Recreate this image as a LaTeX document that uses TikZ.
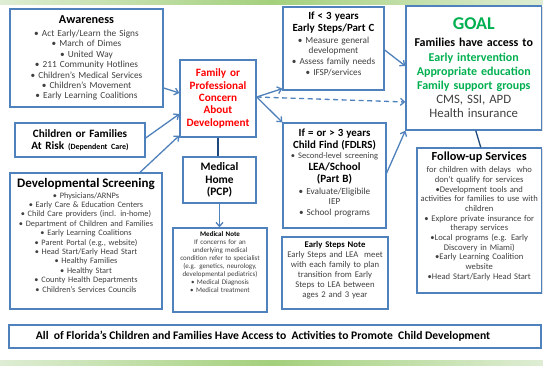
\documentclass[tikz,border=0pt]{standalone}
\usepackage{fontspec}
\setmainfont{Carlito}
\usetikzlibrary{arrows.meta,shadows}
\definecolor{boxblue}{RGB}{79,129,189}
\definecolor{boxdark}{RGB}{31,73,125}
\definecolor{bodygray}{RGB}{64,64,64}
\definecolor{goalgreen}{RGB}{0,176,80}
\definecolor{bandlight}{RGB}{222,237,212}
\definecolor{bandmid}{RGB}{164,208,124}
\newcommand{\setfs}[2]{\fontsize{#1}{#2}\selectfont}
\begin{document}
\begin{tikzpicture}[x=1pt,y=-1pt,
  box/.style={draw=boxblue,line width=1.3pt,fill=white,align=center,inner sep=1pt,
    drop shadow={shadow xshift=1.2pt,shadow yshift=-1.2pt,opacity=0.25}},
  arr/.style={draw=boxblue,line width=1.3pt,-{Straight Barb[length=4pt,width=7pt]}},
  link/.style={draw=boxdark,line width=1.3pt}]
	\useasboundingbox (0,0) rectangle (543,366);
	\fill[white] (0,0) rectangle (543,366);
	\shade[left color=bandlight,right color=bandlight,middle color=bandmid]
	  (0,0) rectangle (543,5)
	  (0,360) rectangle (543,366);
	% sources on the left
	\node[box,minimum width=153pt,minimum height=98pt,text width=150pt,
	  text=bodygray,font={\setfs{9.3}{10.4}}] (aware) at (86.5,58)
	  {{\setfs{12.2}{14}\bfseries\color{black}Awareness}\\[2.6pt]
	   • Act Early/Learn the Signs\\ • March of Dimes\\ • United Way\\
	   • 211 Community Hotlines\\ • Children's Medical Services\\
	   • Children's Movement\\ • Early Learning Coalitions};
	\node[box,minimum width=130pt,minimum height=34pt,text width=127pt,
	  font={\setfs{11.2}{12}\bfseries}] (risk) at (80,140)
	  {Children or Families\\ At Risk {\setfs{8}{12}(Dependent Care)}};
	\node[box,minimum width=152pt,minimum height=136pt,text width=150pt,
	  text=bodygray,font={\setfs{8.3}{9.4}}] (screen) at (86,241)
	  {{\setfs{13}{14}\bfseries\color{black}Developmental Screening}\\[0.9pt]
	   • Physicians/ARNPs\\ • Early Care \& Education Centers\\
	   • Child Care providers (incl. in-home)\\
	   • Department of Children and Families\\ • Early Learning Coalitions\\
	   • Parent Portal (e.g., website)\\ • Head Start/Early Head Start\\
	   • Healthy Families\\ • Healthy Start\\ • County Health Departments\\
	   • Children's Services Councils\par\vspace*{11pt}};
	% middle column
	\node[box,minimum width=76pt,minimum height=77pt,text width=74pt,
	  text=red,font={\setfs{11.2}{12.3}\bfseries}] (concern) at (218,98.5)
	  {Family or\\ Professional\\ Concern\\ About\\ Development};
	\node[box,minimum width=73pt,minimum height=46pt,text width=71pt,
	  font={\setfs{11.4}{12.3}\bfseries}] (pcp) at (219.5,180)
	  {Medical\\ Home\\ (PCP)};
	\node[box,minimum width=94pt,minimum height=84pt,text width=92pt,
	  text=bodygray,font={\setfs{7}{8}}] (mednote) at (220,270)
	  {{\bfseries\color{black}Medical Note}\\ If concerns for an\\
	   underlying medical\\ condition refer to specialist\\
	   (e.g. genetics, neurology,\\ developmental pediatrics)\\
	   • Medical Diagnosis\\ • Medical treatment\par\vspace*{15pt}};
	% programs
	\node[box,minimum width=101pt,minimum height=83pt,text width=99pt,
	  text=bodygray,font={\setfs{9.2}{10.7}}] (partc) at (333.5,48.5)
	  {{\setfs{10.9}{12}\bfseries\color{black}If < 3 years}\\[1.6pt]
	   {\setfs{10.9}{12}\bfseries\color{black}Early Steps/Part C}\\[1pt]
	   • Measure general\\ development\\ • Assess family needs\\
	   • IFSP/services\par\vspace*{10pt}};
	\node[box,minimum width=103pt,minimum height=105pt,text width=101pt,
	  text=bodygray,font={\setfs{9.2}{10.7}}] (partb) at (334.5,175.5)
	  {{\setfs{10.9}{12}\bfseries\color{black}If = or > 3 years}\\[1.3pt]
	   {\setfs{10.9}{12}\bfseries\color{black}Child Find (FDLRS)}\\[-0.4pt]
	   {\setfs{8.5}{10}• Second-level screening}\\[0.6pt]
	   {\setfs{11.1}{12}\bfseries\color{black}LEA/School}\\[2pt]
	   {\setfs{11.1}{12}\bfseries\color{black}(Part B)}\\[1pt]
	   • Evaluate/Eligibile\\[-0.7pt] IEP\\[0.3pt] • School programs\par\vspace*{5pt}};
	\node[box,minimum width=106pt,minimum height=72pt,text width=104pt,
	  text=bodygray,font={\setfs{8.7}{10}}] (esnote) at (335,273)
	  {{\bfseries\color{black}Early Steps Note}\\ Early Steps and LEA\ \ meet\\
	   with each family to plan\\ transition from Early\\
	   Steps to LEA between\\ ages 2 and 3 year\par\vspace*{6pt}};
	% outcomes on the right
	\node[box,minimum width=135.5pt,minimum height=124pt,text width=133pt,
	  font={\setfs{12}{14.2}\bfseries}] (goal) at (473.75,68)
	  {{\setfs{18}{18}\color{goalgreen}GOAL}\\[3pt]
	   Families have access to\\
	   {\color{goalgreen}Early intervention}\\
	   {\color{goalgreen}Appropriate education}\\
	   {\color{goalgreen}Family support groups}\\
	   {\mdseries\setfs{12.8}{14.2}\color{bodygray}CMS, SSI, APD}\\
	   {\mdseries\setfs{12.8}{14.2}\color{bodygray}Health insurance}\par\vspace*{10pt}};
	\node[box,minimum width=124.5pt,minimum height=145pt,text width=122pt,
	  text=bodygray,font={\setfs{8.6}{9.7}}] (follow) at (479.25,220.5)
	  {{\setfs{12.3}{13}\bfseries\color{black}Follow-up Services}\\[2pt]
	   for children with delays\ \ who\\ don't qualify for services\\
	   •Development tools and\\ activities for families to use with\\ children\\
	   • Explore private insurance for\\ therapy services\\
	   •Local programs (e.g. Early\\ Discovery in Miami)\\
	   •Early Learning Coalition\\ website\\ •Head Start/Early Head Start\par\vspace*{8pt}};
	\node[box,minimum width=532pt,minimum height=23pt,inner sep=0pt,
	  font={\setfs{11.6}{13}\bfseries}] (allbar) at (275,336.5)
	  {All\ \ of Florida's Children and Families Have Access to\ \ Activities to Promote\ \ Child Development\hspace*{24pt}};
	% connectors
	\coordinate (fork) at ([yshift=1.5pt]concern.east);
	\draw[arr] ([yshift=-30pt]aware.east) -- ([yshift=5.5pt]concern.west);
	\draw[arr] ([yshift=2pt]risk.east) -- ([yshift=-15.5pt]concern.west);
	\draw[arr] ([xshift=54pt]screen.north) -- ([yshift=-37pt]concern.west);
	\draw[link] (concern.south) -- (concern.south |- pcp.north);
	\draw[arr] (pcp.south) -- (pcp.south |- mednote.north);
	\draw[arr] (fork) -- ([yshift=2pt]partc.south west);
	\draw[arr] (fork) -- (partb.north west);
	\draw[arr,dash pattern=on 5pt off 3.5pt] (fork) -- ([yshift=-34pt]goal.west);
	\draw[arr] ([yshift=-1.5pt]partc.east) -- ([yshift=2pt]goal.west);
	\draw[arr] ([yshift=2.5pt]partb.east) -- (goal.south west);
	\draw[link] ([xshift=2pt]goal.south) -- ([xshift=1.5pt]follow.north);
\end{tikzpicture}
\end{document}
